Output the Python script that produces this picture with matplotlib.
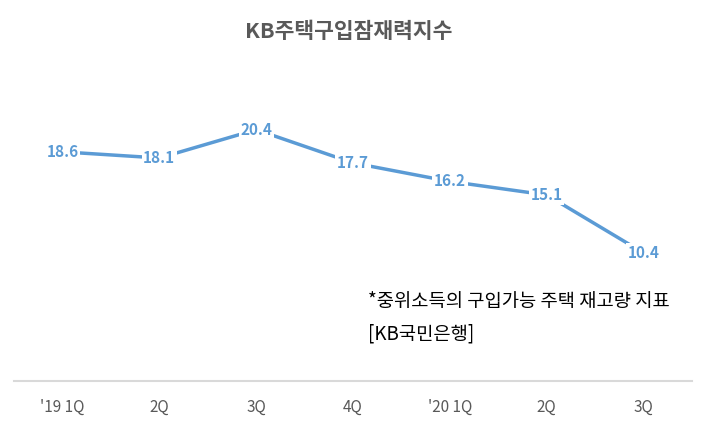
import matplotlib
matplotlib.use("Agg")
import matplotlib.pyplot as plt

plt.rcParams['font.family'] = ['Noto Sans CJK KR', 'DejaVu Sans']

# data
quarters = ["'19 1Q", "2Q", "3Q", "4Q", "'20 1Q", "2Q", "3Q"]
index_values = [18.6, 18.1, 20.4, 17.7, 16.2, 15.1, 10.4]

title = "KB주택구입잠재력지수"
note_1 = "*중위소득의 구입가능 주택 재고량 지표"
note_2 = "[KB국민은행]"

blue = '#5B9BD5'
grey = '#595959'

fig = plt.figure(figsize=(7.08, 4.22), dpi=100)
ax = fig.add_axes([14 / 708, 41 / 422, 678 / 708, 308 / 422])

x = list(range(len(quarters)))
ax.plot(x, index_values, color=blue, lw=2.5, solid_capstyle='butt', zorder=2)

for xi, v in zip(x, index_values):
    ax.text(xi, v, f"{v:.1f}", ha='center', va='center', fontsize=11,
            fontweight='bold', color=blue, zorder=3,
            bbox=dict(facecolor='white', edgecolor='none', pad=1.2))

ax.set_xlim(-0.5, len(quarters) - 0.5)
ax.set_ylim(0, 25)
ax.set_xticks(x)
ax.set_xticklabels(quarters, fontsize=11, color=grey)
ax.tick_params(axis='x', length=0, pad=13)
ax.set_yticks([])

for side in ['left', 'right', 'top']:
    ax.spines[side].set_visible(False)
ax.spines['bottom'].set_color('#D9D9D9')
ax.spines['bottom'].set_linewidth(1.5)

fig.text(0.493, 1 - 31 / 422, title, ha='center', va='center',
         fontsize=15.5, fontweight='bold', color=grey)

fig.text(368 / 708, 1 - 302 / 422, note_1, ha='left', va='center',
         fontsize=13.5, color='black')
fig.text(368 / 708, 1 - 334 / 422, note_2, ha='left', va='center',
         fontsize=13.5, color='black')

plt.savefig('out.png', dpi=100)
